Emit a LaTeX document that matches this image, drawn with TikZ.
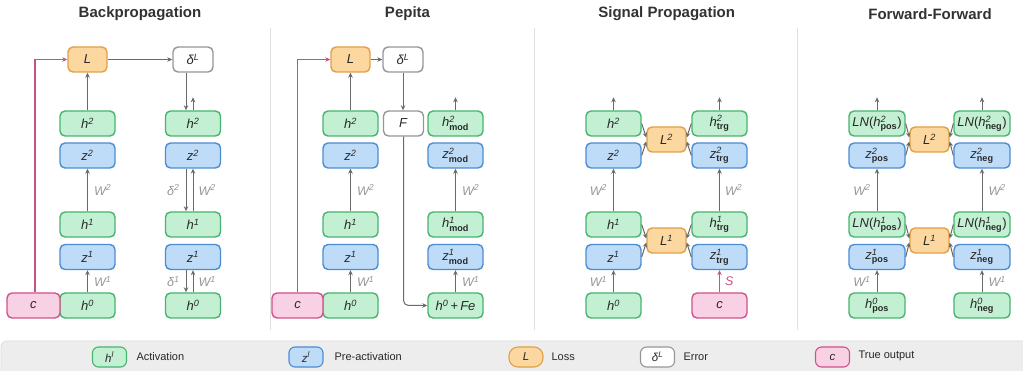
\documentclass[tikz,border=0pt]{standalone}
\usepackage{amsmath}
\usepackage{fontspec}
\setmainfont{Liberation Sans}
\usetikzlibrary{arrows.meta}
\definecolor{grF}{RGB}{195,240,210}
\definecolor{grB}{RGB}{70,180,110}
\definecolor{blF}{RGB}{190,220,248}
\definecolor{blB}{RGB}{75,140,210}
\definecolor{orF}{RGB}{253,215,160}
\definecolor{orB}{RGB}{225,160,70}
\definecolor{pkF}{RGB}{248,210,228}
\definecolor{pkB}{RGB}{210,80,140}
\definecolor{gyB}{RGB}{150,150,150}
\definecolor{arC}{RGB}{105,105,105}
\definecolor{mgC}{RGB}{200,80,140}
\definecolor{wlC}{RGB}{150,150,150}
\definecolor{txt}{RGB}{40,40,40}
\definecolor{ttC}{RGB}{50,50,50}
\definecolor{sepC}{RGB}{225,225,225}
\definecolor{legF}{RGB}{237,237,237}
\definecolor{legB}{RGB}{220,220,220}
\newcommand{\hp}[2]{\textit{#1}$^{\textit{#2}}$}
\newcommand{\hs}[3]{\textit{#1}$^{\textit{#2}}_{\textbf{#3}}$}
\begin{document}
\begin{tikzpicture}[x=1pt,y=-1pt,
  box/.style={rounded corners=5pt, line width=1.4pt, minimum width=55pt, minimum height=25pt, inner sep=0pt, text=txt, font=\fontsize{13}{15}\selectfont},
  act/.style={box,draw=grB,fill=grF},
  pre/.style={box,draw=blB,fill=blF},
  loss/.style={box,draw=orB,fill=orF,minimum width=39pt},
  err/.style={box,draw=gyB,fill=white,minimum width=40pt},
  tru/.style={box,draw=pkB,fill=pkF},
  arr/.style={draw=arC,line width=1pt,-{Stealth[length=5pt,width=4.5pt]}},
  tarr/.style={draw=mgC,line width=1.1pt,-{Stealth[length=5pt,width=4.5pt]}},
  wl/.style={text=wlC,font=\fontsize{12.5}{14}\selectfont\itshape,inner sep=1pt},
  sl/.style={text=mgC,font=\fontsize{12.5}{14}\selectfont\itshape,inner sep=1pt},
  ttl/.style={text=ttC,font=\fontsize{15}{17}\selectfont\bfseries},
  sep/.style={draw=sepC,line width=0.8pt},
  leg/.style={rounded corners=6pt, line width=1.1pt, minimum width=34pt, minimum height=20pt, inner sep=0pt, text=txt, font=\fontsize{11.5}{13}\selectfont},
  legt/.style={anchor=west, text=txt, font=\fontsize{11}{13}\selectfont}
]
\useasboundingbox (0,0) rectangle (1023,371);
% legend band
\draw[fill=legF,draw=legB,line width=0.8pt,rounded corners=6pt] (1,341) rectangle (1030,380);
% separators
\draw[sep] (270.5,28) -- (270.5,330);
\draw[sep] (534,28) -- (534,330);
\draw[sep] (797,28) -- (797,330);
% titles
\node[ttl] (t1) at (140,14) {Backpropagation};
\node[ttl] (t2) at (407.5,14) {Pepita};
\node[ttl] (t3) at (666.7,14) {Signal Propagation};
\node[ttl] (t4) at (930,14) {Forward-Forward};

% ===== Panel 1: Backpropagation
\node[loss] (L1) at (87.5,59.5) {\textit{L}};
\node[err] (D1) at (193,59.5) {\hp{δ}{L}};
\node[act] (h2a) at (87.5,123.5) {\hp{h}{2}};
\node[pre] (z2a) at (87.5,155.5) {\hp{z}{2}};
\node[act] (h1a) at (87.5,224.5) {\hp{h}{1}};
\node[pre] (z1a) at (87.5,257) {\hp{z}{1}};
\node[act] (h0a) at (87.5,305.5) {\hp{h}{0}};
\node[act] (h2b) at (193,123.5) {\hp{h}{2}};
\node[pre] (z2b) at (193,155.5) {\hp{z}{2}};
\node[act] (h1b) at (193,224.5) {\hp{h}{1}};
\node[pre] (z1b) at (193,257) {\hp{z}{1}};
\node[act] (h0b) at (193,305.5) {\hp{h}{0}};
\node[tru,minimum width=53pt] (c1) at (33.5,305.5) {\textit{c}};
\draw[tarr] ([xshift=1.5pt]c1.north) |- (L1.west);
\draw[arr] (L1.east) -- (D1.west);
\draw[arr] (h2a.north) -- (L1.south);
\draw[arr] (h1a.north) -- node[wl,right,xshift=5pt]{W$^{\textit{2}}$} (z2a.south);
\draw[arr] (h0a.north) -- node[wl,right,xshift=5pt]{W$^{\textit{1}}$} (z1a.south);
\draw[arr] ([xshift=-7pt]D1.south) -- ([xshift=-7pt]h2b.north);
\draw[arr] (h2b.north) -- ++(0,-13);
\draw[arr] ([xshift=-7pt]z2b.south) -- node[wl,left,xshift=-5pt]{δ$^{\textit{2}}$} ([xshift=-7pt]h1b.north);
\draw[arr] (h1b.north) -- node[wl,right,xshift=4pt]{W$^{\textit{2}}$} (z2b.south);
\draw[arr] ([xshift=-7pt]z1b.south) -- node[wl,left,xshift=-5pt]{δ$^{\textit{1}}$} ([xshift=-7pt]h0b.north);
\draw[arr] (h0b.north) -- node[wl,right,xshift=4pt]{W$^{\textit{1}}$} (z1b.south);

% ===== Panel 2: Pepita
\node[loss] (L2) at (350.5,59.5) {\textit{L}};
\node[err] (D2) at (403,59.5) {\hp{δ}{L}};
\node[err] (F2) at (403.5,123.5) {\textit{F}};
\node[act] (h2c) at (350.5,123.5) {\hp{h}{2}};
\node[pre] (z2c) at (350.5,155.5) {\hp{z}{2}};
\node[act] (h1c) at (350.5,224.5) {\hp{h}{1}};
\node[pre] (z1c) at (350.5,257) {\hp{z}{1}};
\node[act] (h0c) at (350.5,305.5) {\hp{h}{0}};
\node[act] (h2m) at (455.5,123.5) {\hs{h}{2}{mod}};
\node[pre] (z2m) at (455.5,155.5) {\hs{z}{2}{mod}};
\node[act] (h1m) at (455.5,224.5) {\hs{h}{1}{mod}};
\node[pre] (z1m) at (455.5,257) {\hs{z}{1}{mod}};
\node[act] (h0m) at (455.5,305.5) {\hp{h}{0}\,+\,\textit{Fe}};
\node[tru,minimum width=51pt] (c2) at (297.5,305.5) {\textit{c}};
\draw[tarr] (c2.north) |- (L2.west);
\draw[arr] (L2.east) -- (D2.west);
\draw[arr] (D2.south) -- (D2.south |- F2.north);
\draw[arr,rounded corners=5pt] (F2.south) |- (h0m.west);
\draw[arr] (h2c.north) -- (L2.south);
\draw[arr] (h1c.north) -- node[wl,right,xshift=5pt]{W$^{\textit{2}}$} (z2c.south);
\draw[arr] (h0c.north) -- node[wl,right,xshift=5pt]{W$^{\textit{1}}$} (z1c.south);
\draw[arr] (h2m.north) -- ++(0,-13);
\draw[arr] (h1m.north) -- node[wl,right,xshift=5pt]{W$^{\textit{2}}$} (z2m.south);
\draw[arr] (h0m.north) -- node[wl,right,xshift=5pt]{W$^{\textit{1}}$} (z1m.south);

% ===== Panel 3: Signal Propagation
\node[act] (h2d) at (613.5,123.5) {\hp{h}{2}};
\node[pre] (z2d) at (613.5,155.5) {\hp{z}{2}};
\node[act] (h1d) at (613.5,224.5) {\hp{h}{1}};
\node[pre] (z1d) at (613.5,257) {\hp{z}{1}};
\node[act] (h0d) at (613.5,305.5) {\hp{h}{0}};
\node[act] (h2t) at (719.5,123.5) {\hs{h}{2}{trg}};
\node[pre] (z2t) at (719.5,155.5) {\hs{z}{2}{trg}};
\node[act] (h1t) at (719.5,224.5) {\hs{h}{1}{trg}};
\node[pre] (z1t) at (719.5,257) {\hs{z}{1}{trg}};
\node[tru] (c3) at (719.5,305.5) {\textit{c}};
\node[loss] (L3b) at (666.5,139.5) {\hp{L}{2}};
\node[loss] (L3a) at (666.5,240.5) {\hp{L}{1}};
\draw[arr] (h2d.north) -- ++(0,-13);
\draw[arr] (h2t.north) -- ++(0,-13);
\draw[arr] (h1d.north) -- node[wl,left,xshift=-5pt]{W$^{\textit{2}}$} (z2d.south);
\draw[arr] (h0d.north) -- node[wl,left,xshift=-5pt]{W$^{\textit{1}}$} (z1d.south);
\draw[arr] (h1t.north) -- node[wl,right,xshift=4pt]{W$^{\textit{2}}$} (z2t.south);
\draw[tarr] (c3.north) -- node[sl,right,xshift=4pt]{S} (z1t.south);
\draw[arr] (h2d.east) -- ([yshift=2pt]L3b.west);
\draw[arr] (z2d.east) -- ([yshift=-2pt]L3b.west);
\draw[arr] (h2t.west) -- ([yshift=2pt]L3b.east);
\draw[arr] (z2t.west) -- ([yshift=-2pt]L3b.east);
\draw[arr] (h1d.east) -- ([yshift=2pt]L3a.west);
\draw[arr] (z1d.east) -- ([yshift=-2pt]L3a.west);
\draw[arr] (h1t.west) -- ([yshift=2pt]L3a.east);
\draw[arr] (z1t.west) -- ([yshift=-2pt]L3a.east);

% ===== Panel 4: Forward-Forward
\node[act,minimum width=56pt] (h2p) at (877,123.5) {\textit{LN}(\hs{h}{2}{pos})};
\node[pre,minimum width=56pt] (z2p) at (877,155.5) {\hs{z}{2}{pos}};
\node[act,minimum width=56pt] (h1p) at (877,224.5) {\textit{LN}(\hs{h}{1}{pos})};
\node[pre,minimum width=56pt] (z1p) at (877,257) {\hs{z}{1}{pos}};
\node[act,minimum width=56pt] (h0p) at (877,305.5) {\hs{h}{0}{pos}};
\node[act,minimum width=56pt] (h2n) at (982,123.5) {\textit{LN}(\hs{h}{2}{neg})};
\node[pre,minimum width=56pt] (z2n) at (982,155.5) {\hs{z}{2}{neg}};
\node[act,minimum width=56pt] (h1n) at (982,224.5) {\textit{LN}(\hs{h}{1}{neg})};
\node[pre,minimum width=56pt] (z1n) at (982,257) {\hs{z}{1}{neg}};
\node[act,minimum width=56pt] (h0n) at (982,305.5) {\hs{h}{0}{neg}};
\node[loss] (L4b) at (929.5,139.5) {\hp{L}{2}};
\node[loss] (L4a) at (929.5,240.5) {\hp{L}{1}};
\draw[arr] (h2p.north) -- ++(0,-13);
\draw[arr] (h2n.north) -- ++(0,-13);
\draw[arr] (h1p.north) -- node[wl,left,xshift=-5pt]{W$^{\textit{2}}$} (z2p.south);
\draw[arr] (h0p.north) -- node[wl,left,xshift=-5pt]{W$^{\textit{1}}$} (z1p.south);
\draw[arr] (h1n.north) -- node[wl,right,xshift=5pt]{W$^{\textit{2}}$} (z2n.south);
\draw[arr] (h0n.north) -- node[wl,right,xshift=5pt]{W$^{\textit{1}}$} (z1n.south);
\draw[arr] (h2p.east) -- ([yshift=2pt]L4b.west);
\draw[arr] (z2p.east) -- ([yshift=-2pt]L4b.west);
\draw[arr] (h2n.west) -- ([yshift=2pt]L4b.east);
\draw[arr] (z2n.west) -- ([yshift=-2pt]L4b.east);
\draw[arr] (h1p.east) -- ([yshift=2pt]L4a.west);
\draw[arr] (z1p.east) -- ([yshift=-2pt]L4a.west);
\draw[arr] (h1n.west) -- ([yshift=2pt]L4a.east);
\draw[arr] (z1n.west) -- ([yshift=-2pt]L4a.east);

% ===== Legend
\node[leg,draw=grB,fill=grF] (lg1) at (109.5,357) {\hp{h}{l}};
\node[legt] (lt1) at (133,357) {Activation};
\node[leg,draw=blB,fill=blF] (lg2) at (306,357) {\hp{z}{l}};
\node[legt] (lt2) at (331,357) {Pre-activation};
\node[leg,draw=orB,fill=orF,rounded corners=9pt] (lg3) at (526,357) {\textit{L}};
\node[legt] (lt3) at (548,357) {Loss};
\node[leg,draw=gyB,fill=white] (lg4) at (657.5,357) {\hp{δ}{L}};
\node[legt] (lt4) at (680,357) {Error};
\node[leg,draw=pkB,fill=pkF] (lg5) at (832.5,357) {\textit{c}};
\node[legt] (lt5) at (855,356) {True output};
\end{tikzpicture}
\end{document}
